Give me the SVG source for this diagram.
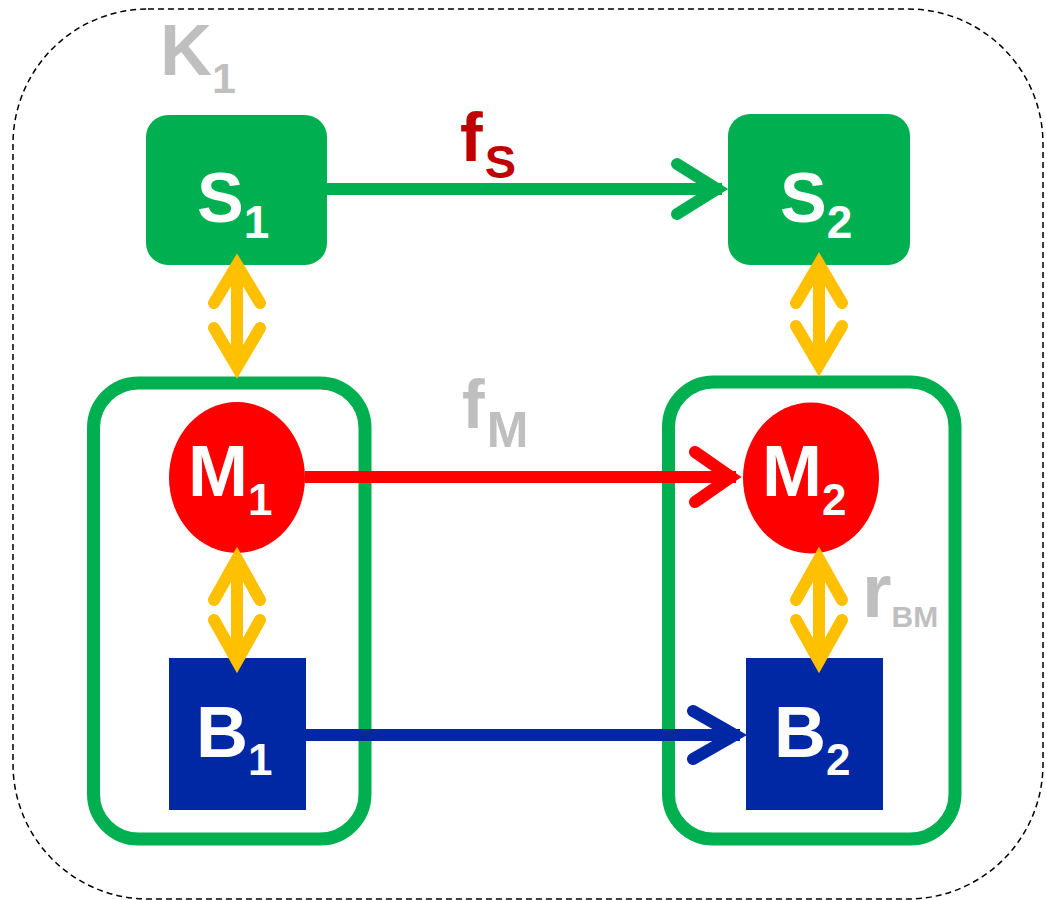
<svg xmlns="http://www.w3.org/2000/svg" width="1046" height="900" viewBox="0 0 1046 900">
<style>
.t{font-family:"Liberation Sans",Arial,sans-serif;font-weight:bold;}
.w{fill:#FFFFFF;}
.g{fill:#BFBFBF;}
.grp{fill:none;stroke:#00B050;stroke-width:13;}
.ln{fill:none;stroke-width:12;stroke-linecap:butt;}
.hd{fill:none;stroke-width:12;stroke-linecap:round;stroke-linejoin:miter;stroke-miterlimit:10;}
.ye{stroke:#FFC000;}
</style>
<rect id="K1-frame" x="13" y="9" width="1030" height="890" rx="135" ry="135" fill="none" stroke="#000" stroke-width="1.5" stroke-dasharray="6 4"/>
<g id="K1-label"><text class="t g" x="160" y="75" font-size="72">K<tspan dy="18" font-size="43">1</tspan></text></g>
<g id="group1"><rect class="grp" x="93.5" y="383" width="271.5" height="456" rx="45" ry="45"/></g>
<g id="group2"><rect class="grp" x="668.5" y="382" width="286.5" height="457" rx="45" ry="45"/></g>
<g id="S1"><rect x="146" y="115" width="181" height="150" rx="22" ry="22" fill="#00B050"/><text class="t w" x="197" y="222" font-size="70">S<tspan dy="16" font-size="46">1</tspan></text></g>
<g id="S2"><rect x="728" y="114" width="182" height="151" rx="22" ry="22" fill="#00B050"/><text class="t w" x="780" y="222" font-size="70">S<tspan dy="16" font-size="46">2</tspan></text></g>
<g id="M1"><ellipse cx="237" cy="477.5" rx="68" ry="75.5" fill="#FF0000"/><text class="t w" x="188" y="496" font-size="72">M<tspan dy="19" font-size="44">1</tspan></text></g>
<g id="M2"><ellipse cx="811" cy="478" rx="68" ry="75.5" fill="#FF0000"/><text class="t w" x="762" y="496" font-size="72">M<tspan dy="19" font-size="44">2</tspan></text></g>
<g id="B1"><rect x="169" y="658" width="137" height="152" fill="#0028A5"/><text class="t w" x="196" y="757" font-size="72">B<tspan dy="18" font-size="44">1</tspan></text></g>
<g id="B2"><rect x="746" y="658" width="137" height="152" fill="#0028A5"/><text class="t w" x="774" y="757" font-size="72">B<tspan dy="18" font-size="44">2</tspan></text></g>
<g id="connectors">
<g id="fS-arrow" stroke="#00B050"><path class="ln" d="M327,189 H722"/><path class="hd" d="M677,164 L717,189 L677,214"/></g>
<g id="fM-arrow" stroke="#FF0000"><path class="ln" d="M305,477 H736"/><path class="hd" d="M695,452 L731,477 L695,502"/></g>
<g id="fB-arrow" stroke="#0028A5"><path class="ln" d="M306,735 H740"/><path class="hd" d="M693,711 L735,735 L693,759"/></g>
<g id="S1-M1" class="ye"><path class="ln" d="M237,265 V367"/><path class="hd" d="M214,303 L237,265 L260,303 M214,328 L237,367 L260,328"/></g>
<g id="S2-M2" class="ye"><path class="ln" d="M819,264 V365"/><path class="hd" d="M796,303 L819,264 L842,303 M796,326 L819,365 L842,326"/></g>
<g id="M1-B1" class="ye"><path class="ln" d="M237,559 V661"/><path class="hd" d="M214,600 L237,559 L260,600 M214,620 L237,661 L260,620"/></g>
<g id="M2-B2" class="ye"><path class="ln" d="M819,559 V661"/><path class="hd" d="M796,600 L819,559 L842,600 M796,620 L819,661 L842,620"/></g>
</g>
<g id="labels">
<text class="t" fill="#C00000" x="460" y="161" font-size="68">f<tspan dx="2" dy="17" font-size="47">S</tspan></text>
<text class="t g" x="462" y="428" font-size="68">f<tspan dx="2" dy="19" font-size="50">M</tspan></text>
<text class="t g" x="862" y="617" font-size="76">r<tspan dy="10" font-size="30">BM</tspan></text>
</g>
</svg>
